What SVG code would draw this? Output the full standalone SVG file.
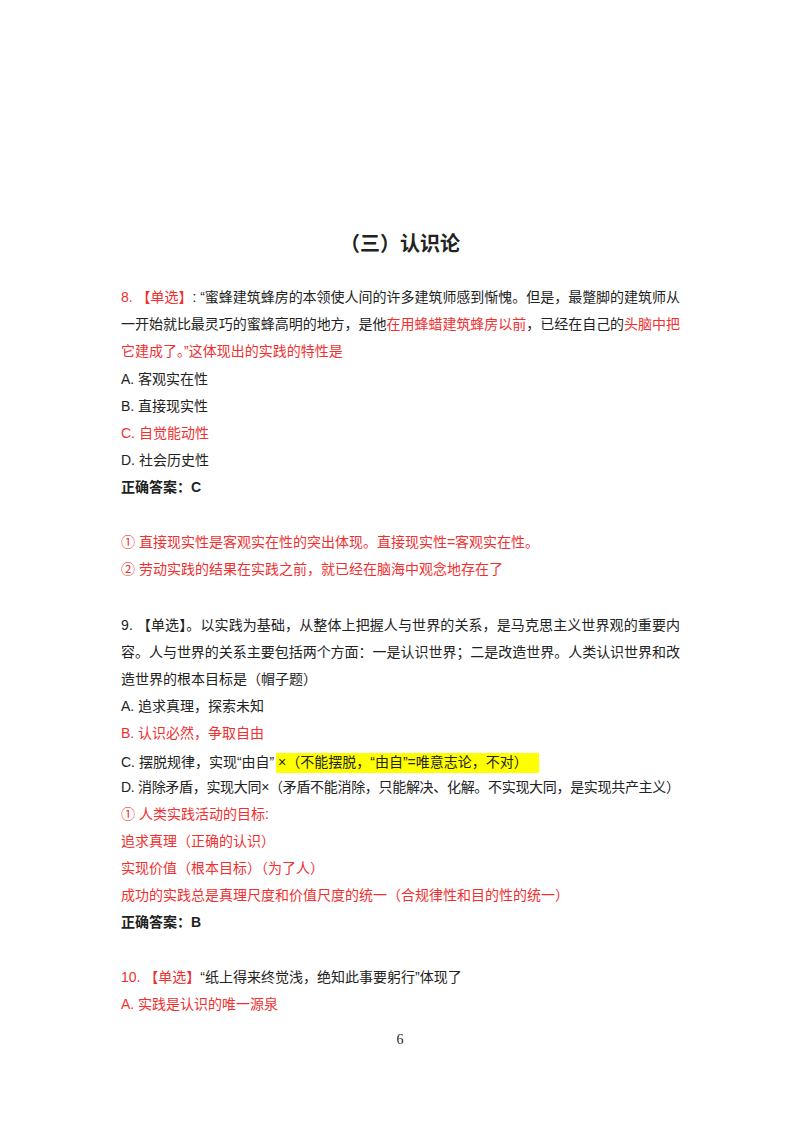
<svg xmlns="http://www.w3.org/2000/svg" width="800" height="1132" viewBox="0 0 800 1132">
<style>
text{font-family:"Liberation Sans","Noto Sans CJK SC",sans-serif;font-size:14px;fill:#222}
.r{fill:#f03030}
.b{font-weight:bold}
</style>
<rect width="800" height="1132" fill="#fff"/>
<text x="400" y="251" text-anchor="middle" class="b" style="font-size:20px">（三）认识论</text>
<text x="121" y="302" textLength="559" lengthAdjust="spacing"><tspan class="r">8. 【单选】</tspan>: “蜜蜂建筑蜂房的本领使人间的许多建筑师感到惭愧。但是，最蹩脚的建筑师从</text>
<text x="121" y="329" textLength="559" lengthAdjust="spacing">一开始就比最灵巧的蜜蜂高明的地方，是他<tspan class="r">在用蜂蜡建筑蜂房以前</tspan>，已经在自己的<tspan class="r">头脑中把</tspan></text>
<text x="121" y="356" class="r">它建成了。”这体现出的实践的特性是</text>
<text x="121" y="384">A. 客观实在性</text>
<text x="121" y="411">B. 直接现实性</text>
<text x="121" y="438" class="r">C. 自觉能动性</text>
<text x="121" y="465">D. 社会历史性</text>
<text x="121" y="492" class="b">正确答案：C</text>
<text x="121" y="547" class="r">① 直接现实性是客观实在性的突出体现。直接现实性=客观实在性。</text>
<text x="121" y="574" class="r">② 劳动实践的结果在实践之前，就已经在脑海中观念地存在了</text>
<text x="121" y="630" textLength="559" lengthAdjust="spacing">9. 【单选】。以实践为基础，从整体上把握人与世界的关系，是马克思主义世界观的重要内</text>
<text x="121" y="657" textLength="559" lengthAdjust="spacing">容。人与世界的关系主要包括两个方面：一是认识世界；二是改造世界。人类认识世界和改</text>
<text x="121" y="684">造世界的根本目标是（帽子题）</text>
<text x="121" y="711">A. 追求真理，探索未知</text>
<text x="121" y="738" class="r">B. 认识必然，争取自由</text>
<rect x="276" y="753" width="263" height="20" fill="#ffff00"/>
<text x="121" y="767">C. 摆脱规律，实现“由自” ×（不能摆脱，“由自”=唯意志论，不对）</text>
<text x="121" y="792" textLength="559" lengthAdjust="spacing">D. 消除矛盾，实现大同×（矛盾不能消除，只能解决、化解。不实现大同，是实现共产主义）</text>
<text x="121" y="819" class="r">① 人类实践活动的目标:</text>
<text x="121" y="846" class="r">追求真理（正确的认识）</text>
<text x="121" y="873" class="r">实现价值（根本目标）（为了人）</text>
<text x="121" y="900" class="r">成功的实践总是真理尺度和价值尺度的统一（合规律性和目的性的统一）</text>
<text x="121" y="927" class="b">正确答案：B</text>
<text x="121" y="982"><tspan class="r">10. 【单选】</tspan>“纸上得来终觉浅，绝知此事要躬行”体现了</text>
<text x="121" y="1009" class="r">A. 实践是认识的唯一源泉</text>
<text x="400" y="1044" text-anchor="middle" style="font-family:'Liberation Serif',serif">6</text>
</svg>
